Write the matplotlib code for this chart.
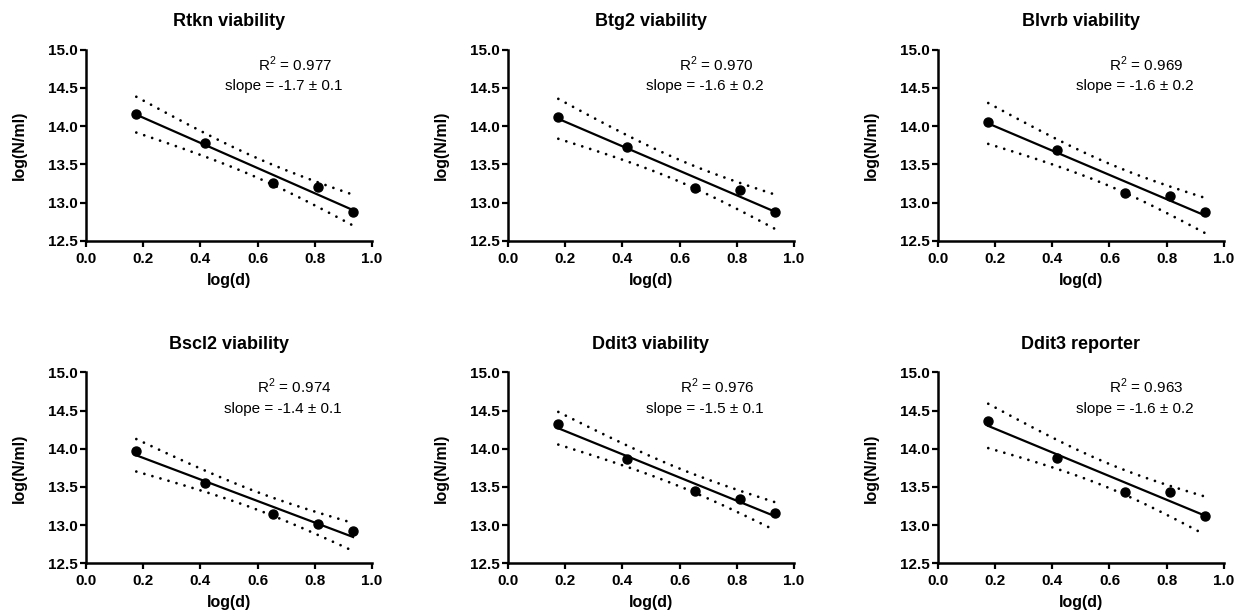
import numpy as np
import matplotlib
matplotlib.use('Agg')
import matplotlib.pyplot as plt

# ------------------------------------------------------------------------------
# data: log of dilution vs log of count, one row per reporter
# ------------------------------------------------------------------------------
logd = [0.176, 0.415, 0.653, 0.813, 0.934]

titles = ['Rtkn viability', 'Btg2 viability', 'Blvrb viability',
          'Bscl2 viability', 'Ddit3 viability', 'Ddit3 reporter']

rtkn   = [14.16, 13.78, 13.25, 13.20, 12.88]
btg2   = [14.12, 13.73, 13.19, 13.17, 12.88]
blvrb  = [14.06, 13.69, 13.12, 13.08, 12.87]
bscl2  = [13.97, 13.55, 13.14, 13.01, 12.92]
ddit3v = [14.33, 13.86, 13.44, 13.34, 13.16]
ddit3r = [14.36, 13.88, 13.43, 13.43, 13.12]

r2_text    = ['0.977', '0.970', '0.969', '0.974', '0.976', '0.963']
slope_text = ['-1.7 \u00b1 0.1', '-1.6 \u00b1 0.2', '-1.6 \u00b1 0.2',
              '-1.4 \u00b1 0.1', '-1.5 \u00b1 0.1', '-1.6 \u00b1 0.2']

series = [rtkn, btg2, blvrb, bscl2, ddit3v, ddit3r]

T95_DF3 = 3.182  # two sided 95% t value, n-2 = 3 dof

plt.rcParams['font.family'] = ['Liberation Sans', 'DejaVu Sans']
plt.rcParams['mathtext.fontset'] = 'custom'
plt.rcParams['mathtext.rm'] = 'Liberation Sans'

fig = plt.figure(figsize=(12.39, 6.12), dpi=100)

lefts = [0.0694, 0.410, 0.757]
bottoms = [0.6067, 0.0796]
w, h = 0.2308, 0.312

dots = (0, (0.01, 3.0))

for i in range(6):
    ax = fig.add_axes([lefts[i % 3], bottoms[i // 3], w, h])
    x = np.array(logd)
    y = np.array(series[i])

    # linear fit + 95% confidence band of the line
    b, a = np.polyfit(x, y, 1)
    res = y - (a + b*x)
    s = np.sqrt(np.sum(res**2) / (len(x) - 2))
    xbar = x.mean()
    Sxx = np.sum((x - xbar)**2)
    xf = np.linspace(x.min(), x.max(), 200)
    yf = a + b*xf
    half = T95_DF3 * s * np.sqrt(1/len(x) + (xf - xbar)**2 / Sxx)

    ax.plot(xf, yf, 'k', linewidth=1.6)
    ax.plot(xf, yf + half, color='k', linestyle=dots, linewidth=2.0,
            dash_capstyle='round')
    ax.plot(xf, yf - half, color='k', linestyle=dots, linewidth=2.0,
            dash_capstyle='round')
    ax.plot(x, y, 'o', color='k', markersize=6.5, zorder=5)

    ax.set_xlim(0, 1.0)
    ax.set_ylim(12.5, 15.0)
    ax.set_xticks([0.0, 0.2, 0.4, 0.6, 0.8, 1.0])
    ax.set_yticks([12.5, 13.0, 13.5, 14.0, 14.5, 15.0])
    ax.xaxis.set_major_formatter(matplotlib.ticker.FormatStrFormatter('%.1f'))
    ax.yaxis.set_major_formatter(matplotlib.ticker.FormatStrFormatter('%.1f'))

    for sp in ['top', 'right']:
        ax.spines[sp].set_visible(False)
    for sp in ['left', 'bottom']:
        ax.spines[sp].set_linewidth(1.8)
    ax.tick_params(direction='out', length=4, width=1.6, labelsize=11)
    ax.tick_params(axis='x', pad=4)
    ax.tick_params(axis='y', pad=2)
    for lab in ax.get_xticklabels() + ax.get_yticklabels():
        lab.set_fontweight('bold')

    ax.set_xlabel('log(d)', fontsize=11.5, fontweight='bold', labelpad=5)
    ax.set_ylabel('log(N/ml)', fontsize=11.5, fontweight='bold', labelpad=15)
    ax.set_title(titles[i], fontsize=13, fontweight='bold', pad=17)

    ax.text(0.73, 0.925, r'R$^2$ = ' + r2_text[i], transform=ax.transAxes,
            ha='center', va='center', fontsize=11)
    ax.text(0.69, 0.81, 'slope = ' + slope_text[i], transform=ax.transAxes,
            ha='center', va='center', fontsize=11)

plt.savefig('out.png', dpi=100)
